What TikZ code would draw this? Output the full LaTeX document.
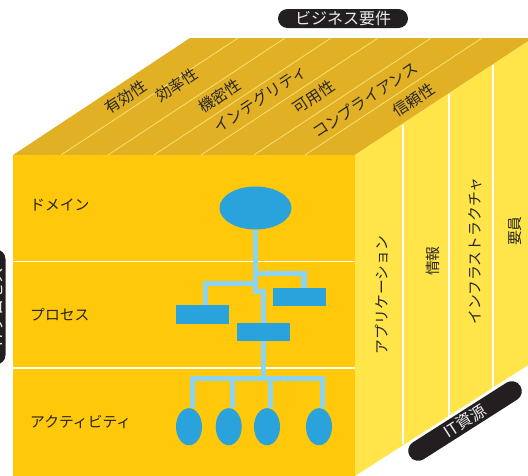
\documentclass[tikz,border=0pt]{standalone}
\usepackage{fontspec}
\usetikzlibrary{shapes.geometric}

\newfontfamily\jpfont{Noto Sans CJK JP}

\definecolor{frontyellow}{RGB}{255,200,10}
\definecolor{topyellow}{RGB}{226,176,36}
\definecolor{sideyellow}{RGB}{255,229,74}
\definecolor{toplinecol}{RGB}{247,222,107}
\definecolor{darkblue}{RGB}{42,162,219}
\definecolor{lightblue}{RGB}{141,212,242}
\definecolor{pilldark}{RGB}{35,31,32}

\tikzset{
  facetext/.style={font=\jpfont\fontsize{14.8}{16}\selectfont, text=black!85, inner sep=0pt},
  toptext/.style={facetext, font=\jpfont\fontsize{15.5}{17}\selectfont, rotate=33.5},
  pill/.style={fill=pilldark, rounded corners=9.5pt, text=white!92!black,
    font=\jpfont\fontsize{16}{17}\selectfont, minimum height=19pt, inner sep=0pt},
  domnode/.style={ellipse, fill=darkblue, minimum width=72pt, minimum height=43pt, inner sep=0pt},
  procbox/.style={rectangle, fill=darkblue, minimum width=53pt, minimum height=18.5pt, inner sep=0pt},
  actnode/.style={ellipse, fill=darkblue, minimum width=26pt, minimum height=37pt, inner sep=0pt},
  link/.style={lightblue, line width=5.5pt},
  topline/.style={toplinecol, line width=0.9pt},
  whiteline/.style={white, line width=1.1pt}
}

\begin{document}
\begin{tikzpicture}[x=1pt,y=-1pt]

  \useasboundingbox (0,0) rectangle (528,475);

  \coordinate (ftl) at (13,155);
  \coordinate (ftr) at (355,155);
  \coordinate (fbr) at (355,476);
  \coordinate (btl) at (190,38);
  \coordinate (btr) at (533,38);
  \coordinate (bbr) at (533,362);

  \fill[topyellow] (ftl) -- (btl) -- (btr) -- (ftr) -- cycle;
  \fill[sideyellow] (ftr) -- (btr) -- (bbr) -- (fbr) -- cycle;
  \fill[frontyellow] (ftl) rectangle (fbr);

  \foreach \x in {61,108,154,201,254,305}
    \draw[topline] (\x,155) -- ++(177,-117);
  \foreach \x/\t/\b in {403/124.5/444, 449/94/415.5, 493/64.5/387.5}
    \draw[whiteline] (\x,\t) -- (\x,\b);
  \draw[whiteline] (13,261.5) -- (355,261.5);
  \draw[whiteline] (13,368) -- (355,368);

  % business requirements on top
  \node[toptext] (effect) at (126,97) {有効性};
  \node[toptext] (effic) at (177,85) {効率性};
  \node[toptext] (confid) at (220,96) {機密性};
  \node[toptext] (integ) at (260,99) {インテグリティ};
  \node[toptext] (avail) at (314,97) {可用性};
  \node[toptext] (compl) at (365,100) {コンプライアンス};
  \node[toptext] (relia) at (414,100) {信頼性};

  % IT resources on the side
  \node[facetext, rotate=90] (app) at (381.5,295) {アプリケーション};
  \node[facetext, rotate=90] (info) at (433,261) {情報};
  \node[facetext, rotate=90] (infra) at (475,251) {インフラストラクチャ};
  \node[facetext, rotate=90] (staff) at (515,231) {要員};

  % IT processes on the front
  \node[facetext, anchor=west] (domain) at (30,205) {ドメイン};
  \node[facetext, anchor=west] (process) at (30,315) {プロセス};
  \node[facetext, anchor=west] (activity) at (30,422) {アクティビティ};

  \node[domnode] (dom) at (255.5,208) {};
  \node[procbox] (pleft) at (202,314.5) {};
  \node[procbox] (pright) at (299.7,297) {};
  \node[procbox] (pmid) at (263.5,332) {};
  \node[actnode] (act1) at (189,426.7) {};
  \node[actnode] (act2) at (228.7,426.7) {};
  \node[actnode] (act3) at (267,426.7) {};
  \node[actnode] (act4) at (319,426.7) {};

  \draw[link] (dom.south) -- ++(0,62) -| (pmid.north);
  \draw[link] (dom.south) ++(0,44) -| ([xshift=4.3pt]pright.north);
  \draw[link] (dom.south) ++(0,54) -| ([xshift=3.5pt]pleft.north);
  \draw[link] (pmid.south) -- ++(0,37) coordinate (bus);
  \foreach \a in {act1,act2,act3,act4}
    \draw[link] (bus) -| ([xshift=3.7pt]\a.north);

  \node[pill, minimum width=130pt] (bizreq) at (343,18.5) {ビジネス要件};
  \node[pill, minimum width=131pt, minimum height=20pt, rounded corners=10pt, rotate=32.5] (itres) at (465,421) {IT資源};
  \node[pill, minimum width=115pt, rotate=90] (itproc) at (-4,307) {ITプロセス};

\end{tikzpicture}
\end{document}
